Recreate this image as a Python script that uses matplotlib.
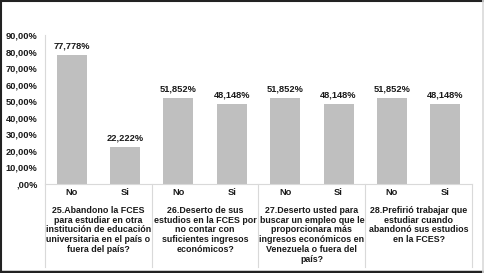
import matplotlib
matplotlib.use("Agg")
import matplotlib.pyplot as plt
from matplotlib.lines import Line2D
from matplotlib.ticker import FuncFormatter

# data
answers = ["No", "Si", "No", "Si", "No", "Si", "No", "Si"]
values = [77.778, 22.222, 51.852, 48.148, 51.852, 48.148, 51.852, 48.148]
questions = [
    "25.Abandono la FCES\npara estudiar en otra\ninstitución de educación\nuniversitaria en el país o\nfuera del país?",
    "26.Deserto de sus\nestudios en la FCES por\nno contar con\nsuficientes ingresos\neconómicos?",
    "27.Deserto usted para\nbuscar un empleo que le\nproporcionara más\ningresos económicos en\nVenezuela o fuera del\npaís?",
    "28.Prefirió trabajar que\nestudiar cuando\nabandonó sus estudios\nen la FCES?",
]
yticks = [0, 10, 20, 30, 40, 50, 60, 70, 80, 90]

plt.rcParams["font.family"] = ["Liberation Sans", "DejaVu Sans"]
FS = 6.7
QFS = 6.4
GRID = "#d9d9d9"
INK = "#1a1a1a"

fig = plt.figure(figsize=(4.85, 2.73), dpi=100)
ax = fig.add_axes([45 / 485, 1 - 184 / 273, 427 / 485, 149 / 273])

x = list(range(len(values)))
bars = ax.bar(x, values, width=0.56, color="#bfbfbf", zorder=2)
for b, v in zip(bars, values):
    ax.annotate(f"{v:.3f}%".replace(".", ","), (b.get_x() + b.get_width() / 2, v),
                xytext=(0, 3.2), textcoords="offset points", ha="center", va="bottom",
                fontsize=FS, fontweight="bold", color=INK)

ax.set_xlim(-0.5, len(values) - 0.5)
ax.set_ylim(0, 90)
ax.set_yticks(yticks)
ax.yaxis.set_major_formatter(FuncFormatter(
    lambda v, _: ",00%" if v == 0 else f"{v:.2f}%".replace(".", ",")))
ax.tick_params(axis="y", length=0, pad=5.5, labelsize=FS, labelcolor=INK)
for lab in ax.get_yticklabels():
    lab.set_fontweight("bold")
ax.set_xticks([])
for side in ["top", "right"]:
    ax.spines[side].set_visible(False)
for side in ["left", "bottom"]:
    ax.spines[side].set_color(GRID)
    ax.spines[side].set_linewidth(0.8)

# answer labels and question text below the axis
for i, a in enumerate(answers):
    ax.text(i, -0.06, a, transform=ax.get_xaxis_transform(), ha="center", va="center",
            fontsize=FS, fontweight="bold", color=INK)
for g, q in enumerate(questions):
    ax.text(2 * g + 0.5, -0.145, q, transform=ax.get_xaxis_transform(), ha="center", va="top",
            fontsize=QFS, fontweight="bold", color=INK, linespacing=1.13)

# group separators extending below the axis
for g in range(len(questions) + 1):
    ax.add_line(Line2D([2 * g - 0.5, 2 * g - 0.5], [0, -0.56], transform=ax.get_xaxis_transform(),
                       color=GRID, lw=0.8, clip_on=False))

# outer frame of the picture
fig.add_artist(Line2D([0.002, 0.002], [0, 1], transform=fig.transFigure, color="#222222", lw=1.5))
fig.add_artist(Line2D([0, 1], [0.997, 0.997], transform=fig.transFigure, color="#222222", lw=1.5))
fig.add_artist(Line2D([0, 1], [0.004, 0.004], transform=fig.transFigure, color="#222222", lw=2.5))
fig.add_artist(Line2D([483 / 485, 483 / 485], [0, 1], transform=fig.transFigure, color=GRID, lw=1.2))

fig.savefig("out.png", dpi=100)
